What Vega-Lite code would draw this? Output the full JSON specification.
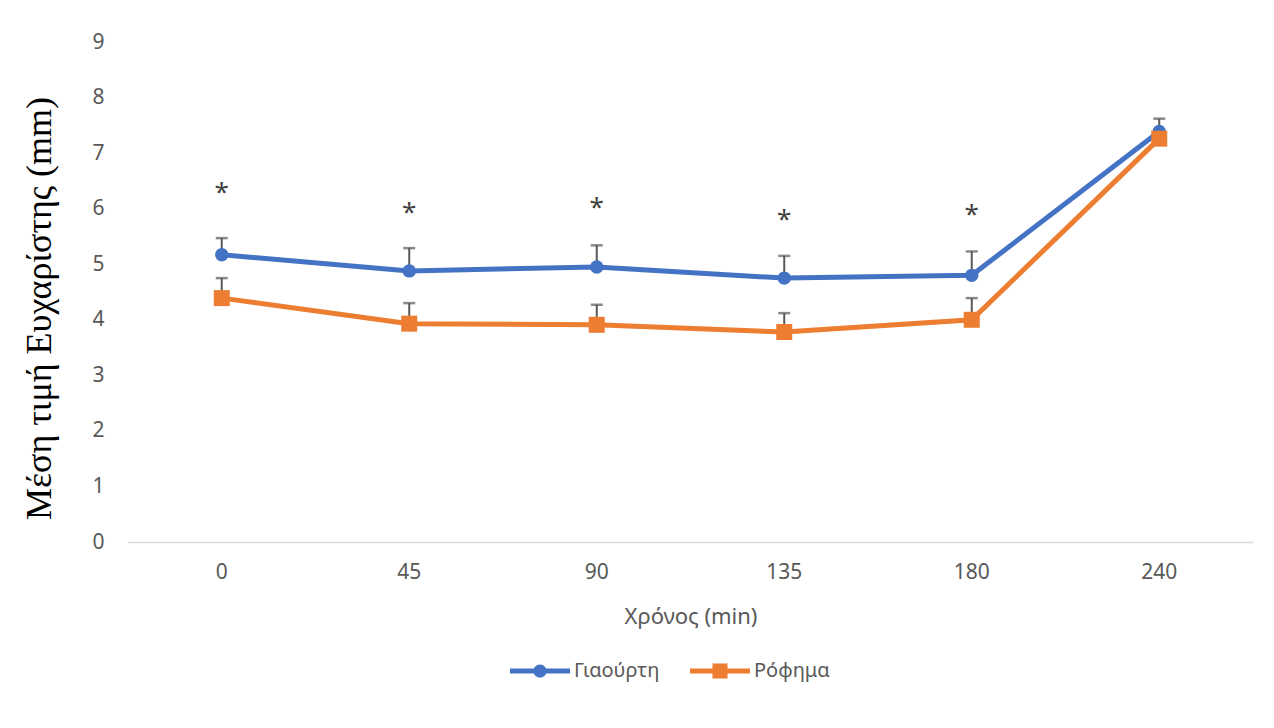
{
  "$schema": "https://vega.github.io/schema/vega-lite/v6.json",
  "width": 1125,
  "height": 500,
  "autosize": {"type": "pad"},
  "padding": {"left": 21, "top": 31, "right": 21, "bottom": 20},
  "background": "white",
  "config": {
    "view": {"stroke": null},
    "font": "Noto Sans"
  },
  "datasets": {
    "series": [
      {"time": "0", "group": "Γιαούρτη", "mean": 5.17, "upper": 5.47},
      {"time": "45", "group": "Γιαούρτη", "mean": 4.88, "upper": 5.29},
      {"time": "90", "group": "Γιαούρτη", "mean": 4.95, "upper": 5.34},
      {"time": "135", "group": "Γιαούρτη", "mean": 4.75, "upper": 5.15},
      {"time": "180", "group": "Γιαούρτη", "mean": 4.80, "upper": 5.23},
      {"time": "240", "group": "Γιαούρτη", "mean": 7.39, "upper": 7.62},
      {"time": "0", "group": "Ρόφημα", "mean": 4.39, "upper": 4.75},
      {"time": "45", "group": "Ρόφημα", "mean": 3.93, "upper": 4.30},
      {"time": "90", "group": "Ρόφημα", "mean": 3.91, "upper": 4.27},
      {"time": "135", "group": "Ρόφημα", "mean": 3.78, "upper": 4.12},
      {"time": "180", "group": "Ρόφημα", "mean": 4.00, "upper": 4.39},
      {"time": "240", "group": "Ρόφημα", "mean": 7.26, "upper": 7.26}
    ],
    "stars": [
      {"time": "0", "y": 6.31, "label": "*"},
      {"time": "45", "y": 5.95, "label": "*"},
      {"time": "90", "y": 6.04, "label": "*"},
      {"time": "135", "y": 5.83, "label": "*"},
      {"time": "180", "y": 5.92, "label": "*"}
    ]
  },
  "encoding": {
    "x": {
      "field": "time",
      "type": "ordinal",
      "sort": ["0", "45", "90", "135", "180", "240"],
      "scale": {"paddingInner": 0, "paddingOuter": 0},
      "axis": {
        "title": "Χρόνος (min)",
        "labelAngle": 0,
        "ticks": false,
        "domainColor": "#d9d9d9",
        "domainWidth": 1.5,
        "labelFont": "Noto Sans",
        "labelFontSize": 21,
        "labelColor": "#595959",
        "labelPadding": 19,
        "titleFont": "Noto Sans",
        "titleFontSize": 22,
        "titleFontWeight": "normal",
        "titleColor": "#595959",
        "titlePadding": 24
      }
    },
    "y": {
      "field": "mean",
      "type": "quantitative",
      "scale": {"domain": [0, 9], "nice": false},
      "axis": {
        "title": "Μέση τιμή Ευχαρίστης (mm)",
        "titleFont": "Liberation Serif",
        "titleFontSize": 36,
        "titleFontWeight": "normal",
        "titleColor": "#000000",
        "titlePadding": 33,
        "titleY": 266,
        "values": [0, 1, 2, 3, 4, 5, 6, 7, 8, 9],
        "labelOverlap": false,
        "grid": false,
        "domain": false,
        "ticks": false,
        "labelFont": "Noto Sans",
        "labelFontSize": 21,
        "labelColor": "#595959",
        "labelPadding": 24
      }
    }
  },
  "layer": [
    {
      "data": {"name": "series"},
      "mark": {"type": "rule", "color": "#595959", "strokeWidth": 2},
      "encoding": {
        "y2": {"field": "upper"}
      }
    },
    {
      "data": {"name": "series"},
      "mark": {"type": "tick", "color": "#595959", "thickness": 2.5, "size": 12, "orient": "horizontal"},
      "encoding": {
        "y": {"field": "upper", "type": "quantitative"}
      }
    },
    {
      "data": {"name": "series"},
      "mark": {"type": "line", "strokeWidth": 5},
      "encoding": {
        "color": {
          "field": "group",
          "type": "nominal",
          "scale": {"domain": ["Γιαούρτη", "Ρόφημα"], "range": ["#4472C4", "#ED7D31"]},
          "legend": {
            "title": null,
            "orient": "none",
            "legendX": 382,
            "legendY": 599,
            "direction": "horizontal",
            "labelFont": "Noto Sans",
            "labelFontSize": 20,
            "labelColor": "#595959",
            "labelOffset": 4,
            "columnPadding": 30,
            "symbolSize": 3600,
            "symbolStrokeWidth": 0,
            "encode": {
              "symbols": {
                "update": {
                  "shape": {"signal": "datum.value === 'Γιαούρτη' ? 'M-1,-0.08H1V0.08H-1Z M-0.22,0A0.22,0.22 0 1,1 0.22,0A0.22,0.22 0 1,1 -0.22,0Z' : 'M-1,-0.08H1V0.08H-1Z M-0.25,-0.25H0.25V0.25H-0.25Z'"},
                  "fill": {"signal": "datum.value === 'Γιαούρτη' ? '#4472C4' : '#ED7D31'"},
                  "stroke": {"value": "transparent"},
                  "opacity": {"value": 1}
                }
              }
            }
          }
        }
      }
    },
    {
      "data": {"name": "series"},
      "transform": [{"filter": "datum.group === 'Γιαούρτη'"}],
      "mark": {"type": "point", "filled": true, "opacity": 1, "shape": "circle", "size": 180},
      "encoding": {
        "color": {"field": "group", "type": "nominal"}
      }
    },
    {
      "data": {"name": "series"},
      "transform": [{"filter": "datum.group === 'Ρόφημα'"}],
      "mark": {"type": "point", "filled": true, "opacity": 1, "shape": "square", "size": 256},
      "encoding": {
        "color": {"field": "group", "type": "nominal"}
      }
    },
    {
      "data": {"name": "stars"},
      "mark": {"type": "text", "font": "Noto Sans", "fontSize": 26, "color": "#404040", "baseline": "middle", "dy": 2},
      "encoding": {
        "y": {"field": "y", "type": "quantitative"},
        "text": {"field": "label"}
      }
    }
  ]
}
